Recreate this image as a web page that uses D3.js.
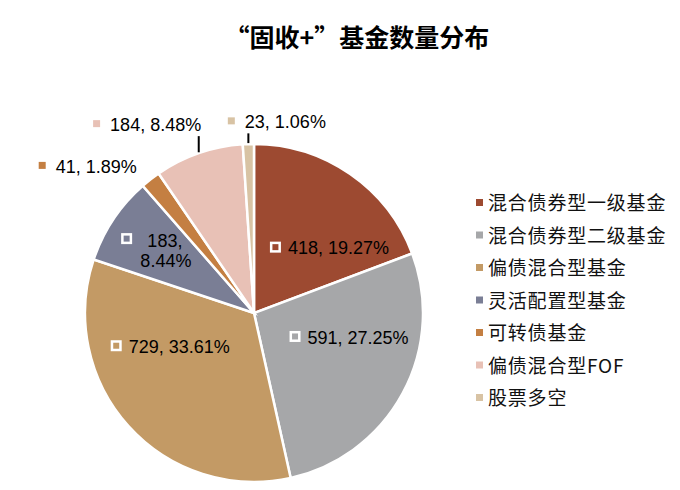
<!DOCTYPE html>
<html>
<head>
<meta charset="utf-8">
<script src="https://cdn.jsdelivr.net/npm/d3@7"></script>
<style>
  body { margin: 0; background: #fff; }
  svg text { font-family: "Liberation Sans", Arial, "Noto Sans CJK SC", sans-serif; }
  .cjk { font-family: "Noto Sans CJK SC", "Liberation Sans", sans-serif; }
</style>
</head>
<body>
<svg id="chart" width="680" height="490"></svg>
<script>
/************************************ Data *******************************/
var categories = ["混合债券型一级基金", "混合债券型二级基金", "偏债混合型基金", "灵活配置型基金", "可转债基金", "偏债混合型FOF", "股票多空"];
var counts = [418, 591, 729, 183, 41, 184, 23];
var shares = ["19.27%", "27.25%", "33.61%", "8.44%", "1.89%", "8.48%", "1.06%"];
var colors = ["#9D4A31", "#A6A7A9", "#C39A65", "#7A7E95", "#C47F42", "#E8C1B6", "#D8C3A4"];

// label placement: polar angle (deg, clockwise from top), distance, inside or leader line
var labelAngle = [49, 104, 248.5, 303.3, 311.5, 330.5, 6.8];
var labelDist = [100, 98, 90, 115, 222, 217, 193];
var labelInside = [true, true, true, true, false, false, false];

/************************************ Layout *******************************/
var svg = d3.select("#chart");
var cx = 254, cy = 313, radius = 169;

svg.append("text")
  .attr("class", "cjk")
  .attr("x", 357).attr("y", 47)
  .attr("text-anchor", "middle")
  .style("font-size", "25px").style("font-weight", "bold")
  .text("“固收+”基金数量分布");

var pie = d3.pie().sort(null).value(function(d) { return d; });
var arc = d3.arc().innerRadius(0).outerRadius(radius);
var arcs = pie(counts);

var g = svg.append("g").attr("transform", "translate(" + cx + "," + cy + ")");

g.selectAll("path.slice")
  .data(arcs)
  .enter().append("path")
  .attr("class", "slice")
  .attr("d", arc)
  .attr("fill", function(d, i) { return colors[i]; })
  .attr("stroke", "#fff")
  .attr("stroke-width", 2.5);

/************************************ Labels *******************************/
function polar(a, r) {
  var t = a * Math.PI / 180;
  return [r * Math.sin(t), -r * Math.cos(t)];
}

function insideMarker(sel, x, y, c) {
  sel.append("rect").attr("x", x).attr("y", y).attr("width", 8.5).attr("height", 8.5)
    .attr("fill", c).attr("stroke", "#fff").attr("stroke-width", 2.5);
}

arcs.forEach(function(d, i) {
  var p = polar(labelAngle[i], labelDist[i]);
  var lg = g.append("g").attr("transform", "translate(" + p[0] + "," + p[1] + ")");
  if (i === 3) {
    // two-line label
    insideMarker(lg, -35.5, -15.5, colors[i]);
    lg.append("text").attr("x", 7).attr("y", -3).attr("text-anchor", "middle")
      .style("font-size", "18px").text(counts[i] + ",");
    lg.append("text").attr("x", 8).attr("y", 17).attr("text-anchor", "middle")
      .style("font-size", "18px").text(shares[i]);
    return;
  }
  var t = lg.append("text").attr("y", 7).style("font-size", "18px")
    .text(counts[i] + ", " + shares[i]);
  var w = t.node().getComputedTextLength();
  if (labelInside[i]) {
    var total = w + 18;
    t.attr("x", -total / 2 + 18);
    insideMarker(lg, -total / 2 + 1.25, -4.5, colors[i]);
  } else {
    var tot = w + 17;
    t.attr("x", -tot / 2 + 17);
    lg.append("rect").attr("x", -tot / 2).attr("y", -4).attr("width", 7).attr("height", 7)
      .attr("fill", colors[i]);
  }
});

// leader lines for the two small slices near the top
[5, 6].forEach(function(i) {
  var mid = (arcs[i].startAngle + arcs[i].endAngle) / 2 * 180 / Math.PI;
  var e = polar(mid, radius);
  var lbl = polar(labelAngle[i], labelDist[i]);
  g.append("line")
    .attr("x1", e[0]).attr("y1", e[1] - 1)
    .attr("x2", e[0]).attr("y2", lbl[1] + 12)
    .attr("stroke", "#000").attr("stroke-width", 2);
});

/************************************ Legend *******************************/
var legend = svg.append("g").attr("transform", "translate(476,203)");
var items = legend.selectAll("g.item")
  .data(categories)
  .enter().append("g")
  .attr("class", "item")
  .attr("transform", function(d, i) { return "translate(0," + (i * 32.5) + ")"; });

items.append("rect")
  .attr("x", 0).attr("y", -4).attr("width", 7).attr("height", 7)
  .attr("fill", function(d, i) { return colors[i]; });

items.append("text")
  .attr("class", "cjk")
  .attr("x", 12).attr("y", 7)
  .style("font-size", "19px")
  .style("letter-spacing", "0.8px")
  .attr("fill", "#111")
  .text(function(d) { return d; });
</script>
</body>
</html>
